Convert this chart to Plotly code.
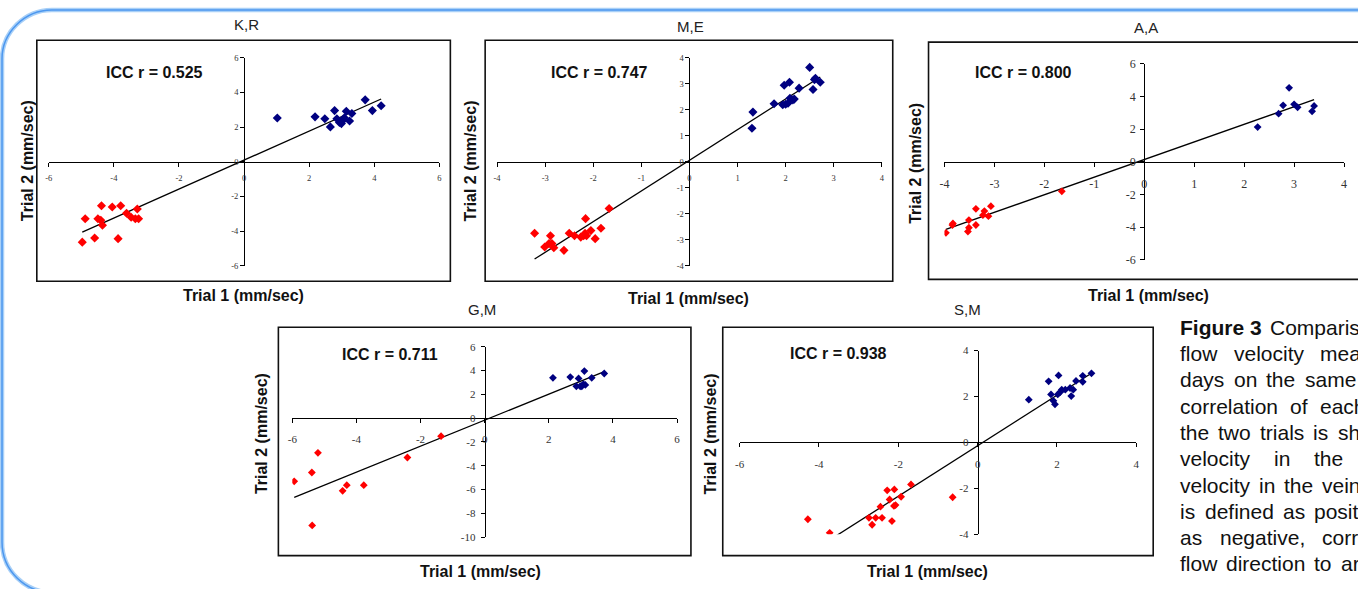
import numpy as np
import plotly.graph_objects as go

W, H = 1358, 589

# ---------------- data ----------------
# K,R
KR_vein_t1 = [-4.97, -4.88, -4.59, -4.49, -4.38, -4.40, -4.35, -4.05, -3.87, -3.79, -3.61, -3.47, -3.34, -3.28, -3.24]
KR_vein_t2 = [-4.64, -3.29, -4.40, -3.29, -2.54, -3.38, -3.67, -2.61, -4.44, -2.54, -2.97, -3.20, -3.29, -2.73, -3.29]
KR_art_t1 = [1.02, 2.18, 2.48, 2.65, 2.78, 2.85, 2.93, 2.99, 3.04, 3.08, 3.14, 3.24, 3.31, 3.72, 3.94, 4.21]
KR_art_t2 = [2.52, 2.59, 2.48, 2.01, 2.95, 2.48, 2.26, 2.20, 2.39, 2.54, 2.91, 2.35, 2.78, 3.57, 2.95, 3.23]
# M,E
ME_vein_t1 = [-3.22, -3.01, -2.92, -2.89, -2.86, -2.82, -2.61, -2.50, -2.39, -2.26, -2.20, -2.17, -2.16, -2.14, -2.05, -1.96, -1.84, -1.67]
ME_vein_t2 = [-2.75, -3.28, -3.15, -2.85, -3.15, -3.31, -3.41, -2.75, -2.85, -2.90, -2.85, -2.75, -2.19, -2.85, -2.65, -2.96, -2.56, -1.80]
ME_art_t1 = [1.30, 1.32, 1.76, 1.94, 1.97, 2.00, 2.05, 2.08, 2.09, 2.15, 2.18, 2.28, 2.50, 2.57, 2.60, 2.62, 2.72]
ME_art_t2 = [1.29, 1.91, 2.23, 2.19, 2.94, 2.21, 2.25, 3.06, 2.44, 2.38, 2.41, 2.83, 3.63, 2.78, 3.16, 3.21, 3.06]
# A,A
AA_vein_t1 = [-3.97, -3.84, -3.83, -3.53, -3.51, -3.51, -3.37, -3.37, -3.23, -3.20, -3.12, -3.07, -1.65]
AA_vein_t2 = [-4.35, -3.87, -3.77, -4.27, -4.03, -3.57, -2.88, -3.87, -3.27, -3.02, -3.33, -2.72, -1.81]
AA_art_t1 = [2.27, 2.69, 2.78, 2.90, 3.00, 3.07, 3.36, 3.40]
AA_art_t2 = [2.12, 2.94, 3.45, 4.52, 3.51, 3.33, 3.08, 3.41]
# G,M
GM_vein_t1 = [-5.94, -5.39, -5.38, -5.20, -4.43, -4.30, -3.77, -2.41, -1.36]
GM_vein_t2 = [-5.31, -4.57, -9.02, -2.92, -6.11, -5.64, -5.64, -3.31, -1.52]
GM_art_t1 = [2.13, 2.67, 2.86, 2.93, 2.98, 3.03, 3.08, 3.11, 3.14, 3.34, 3.73]
GM_art_t2 = [3.39, 3.45, 2.68, 3.34, 2.68, 2.68, 2.85, 3.95, 2.79, 3.39, 3.75]
# S,M
SM_vein_t1 = [-4.28, -3.73, -2.74, -2.66, -2.57, -2.45, -2.41, -2.28, -2.22, -2.16, -2.11, -2.10, -2.07, -1.93, -1.68, -0.63]
SM_vein_t2 = [-3.35, -3.94, -3.29, -3.59, -3.29, -2.80, -3.29, -2.09, -2.49, -3.43, -2.77, -2.05, -2.73, -2.37, -1.83, -2.39]
SM_art_t1 = [1.29, 1.79, 1.85, 1.91, 1.95, 2.02, 2.04, 2.08, 2.12, 2.21, 2.33, 2.36, 2.41, 2.48, 2.65, 2.65, 2.87]
SM_art_t2 = [1.86, 2.66, 2.09, 1.81, 1.66, 2.09, 2.92, 2.19, 2.30, 2.30, 2.37, 2.02, 2.30, 2.68, 2.90, 2.64, 3.01]

subjects = ["K,R", "M,E", "A,A", "G,M", "S,M"]
icc_values = ["0.525", "0.747", "0.800", "0.711", "0.938"]

ticks_6 = [-6, -4, -2, 0, 2, 4, 6]
ticks_4 = [-4, -3, -2, -1, 0, 1, 2, 3, 4]
ticks_6_4 = [-6, -4, -2, 0, 2, 4]
ticks_10_6 = [-10, -8, -6, -4, -2, 0, 2, 4, 6]
ticks_4b = [-4, -2, 0, 2, 4]

caption_lines = [
    ["Figure 3", "Comparison", "of"],
    ["flow", "velocity", "measured"],
    ["days", "on", "the", "same", "subject"],
    ["correlation", "of", "each"],
    ["the", "two", "trials", "is", "shown."],
    ["velocity", "in", "the", "artery"],
    ["velocity", "in", "the", "vein", "is"],
    ["is", "defined", "as", "positive"],
    ["as", "negative,", "corresponding"],
    ["flow", "direction", "to", "arteries"],
]
caption_bold_words = ["Figure 3"]

# ---------------- layout specs (page pixels) ----------------
def PX(x):
    return x / W

def PY(y):
    return 1 - y / H

panels = [
    dict(v=(KR_vein_t1, KR_vein_t2), a=(KR_art_t1, KR_art_t2), xt=ticks_6, yt=ticks_6,
         xpx=(44, 437), ypx=(52, 265), box=(32, 34, 448, 281), title=(243, 18),
         icc=(150, 67), ytl=(22, 157), xtl=(240, 296), tf=8.5, ms=7, xso=4, yso=0),
    dict(v=(ME_vein_t1, ME_vein_t2), a=(ME_art_t1, ME_art_t2), xt=ticks_4, yt=ticks_4,
         xpx=(495, 882), ypx=(52, 265), box=(483, 34, 893, 281), title=(690, 20),
         icc=(598, 67), ytl=(468, 158), xtl=(688, 299), tf=8.5, ms=7, xso=4, yso=0),
    dict(v=(AA_vein_t1, AA_vein_t2), a=(AA_art_t1, AA_art_t2), xt=ticks_4, yt=ticks_6,
         xpx=(945, 1347), ypx=(58, 259), box=(929, 36, 1366, 279), title=(1148, 21),
         icc=(1025, 67), ytl=(916, 160), xtl=(1150, 296), tf=12, ms=6, xso=7, yso=2),
    dict(v=(GM_vein_t1, GM_vein_t2), a=(GM_art_t1, GM_art_t2), xt=ticks_6, yt=ticks_10_6,
         xpx=(289, 676), ypx=(348, 543), box=(275, 328, 690, 562), title=(480, 310),
         icc=(387, 356), ytl=(258, 437), xtl=(478, 578), tf=11, ms=6, xso=7, yso=3),
    dict(v=(SM_vein_t1, SM_vein_t2), a=(SM_art_t1, SM_art_t2), xt=ticks_6_4, yt=ticks_4b,
         xpx=(739, 1138), ypx=(352, 540), box=(722, 328, 1155, 562), title=(968, 310),
         icc=(838, 355), ytl=(710, 437), xtl=(928, 578), tf=11, ms=6, xso=7, yso=3),
]

SANS = "Liberation Sans, Arial, sans-serif"
SERIF = "Liberation Serif, Times New Roman, serif"

fig = go.Figure()
shapes = []
annotations = []
layout_axes = {}

def add_text(x, y, text, size, bold=False, angle=0, xanchor="center", color="#111111"):
    annotations.append(dict(x=PX(x), y=PY(y), xref="paper", yref="paper",
                            text=f"<b>{text}</b>" if bold else text, showarrow=False,
                            textangle=angle, xanchor=xanchor, yanchor="middle",
                            font=dict(family=SANS, size=size, color=color)))

for i, p in enumerate(panels, start=1):
    xa = "x" if i == 1 else f"x{i}"
    ya = "y" if i == 1 else f"y{i}"
    xmin, xmax = min(p["xt"]), max(p["xt"])
    ymin, ymax = min(p["yt"]), max(p["yt"])

    # linear trend line (least squares over all points, from min to max of trial 1)
    allx = np.array(p["v"][0] + p["a"][0])
    ally = np.array(p["v"][1] + p["a"][1])
    k, b = np.polyfit(allx, ally, 1)
    tx = np.array([allx.min(), allx.max()])
    fig.add_trace(go.Scatter(x=tx, y=k * tx + b, mode="lines", xaxis=xa, yaxis=ya,
                             line=dict(color="black", width=1.3), showlegend=False,
                             hoverinfo="skip"))
    fig.add_trace(go.Scatter(x=p["v"][0], y=p["v"][1], mode="markers", xaxis=xa, yaxis=ya,
                             marker=dict(symbol="diamond", size=p["ms"], color="#ff0000"),
                             showlegend=False, name="vein"))
    fig.add_trace(go.Scatter(x=p["a"][0], y=p["a"][1], mode="markers", xaxis=xa, yaxis=ya,
                             marker=dict(symbol="diamond", size=p["ms"], color="#000080"),
                             showlegend=False, name="artery"))

    x0p, x1p = p["xpx"]
    y0p, y1p = p["ypx"]
    yzero_px = y0p + (ymax - 0) / (ymax - ymin) * (y1p - y0p)
    xzero_px = x0p + (0 - xmin) / (xmax - xmin) * (x1p - x0p)
    tickfont = dict(family=SERIF, size=p["tf"], color="#333333")
    common = dict(showgrid=False, zeroline=False, showline=True, linecolor="black", linewidth=1,
                  ticks="outside", ticklen=4, tickwidth=1, tickcolor="black", tickfont=tickfont,
                  anchor="free", fixedrange=True)
    layout_axes["xaxis" if i == 1 else f"xaxis{i}"] = dict(
        domain=[PX(x0p), PX(x1p)], range=[xmin, xmax], position=PY(yzero_px),
        tickvals=p["xt"], ticktext=[str(t) for t in p["xt"]], ticklabelstandoff=p["xso"], **common)
    layout_axes["yaxis" if i == 1 else f"yaxis{i}"] = dict(
        domain=[PY(y1p), PY(y0p)], range=[ymin, ymax], position=PX(xzero_px),
        tickvals=p["yt"], ticktext=[str(t) for t in p["yt"]], ticklabelstandoff=p["yso"], **common)

    bx0, by0, bx1, by1 = p["box"]
    shapes.append(dict(type="rect", xref="paper", yref="paper", x0=PX(bx0), x1=PX(bx1),
                       y0=PY(by1), y1=PY(by0), line=dict(color="#111111", width=1.6),
                       fillcolor="rgba(0,0,0,0)", layer="below"))

    add_text(*p["title"], subjects[i - 1], 15, color="#222222")
    add_text(*p["icc"], f"ICC r = {icc_values[i - 1]}", 16, bold=True)
    add_text(*p["xtl"], "Trial 1 (mm/sec)", 16, bold=True)
    add_text(*p["ytl"], "Trial 2 (mm/sec)", 16, bold=True, angle=-90)

# ---------------- justified caption, laid out word by word ----------------
CAP_SIZE = 21
REG_W = dict(a=556, b=556, c=500, d=556, e=556, f=278, g=556, h=556, i=222, j=222, k=500,
             l=222, m=833, n=556, o=556, p=556, q=556, r=333, s=500, t=278, u=556, v=500,
             w=722, x=500, y=500, z=500, C=722, F=611)
REG_W.update({" ": 278, ",": 278, ".": 278, "3": 556})
BOLD_W = dict(F=611, i=278, g=611, u=611, r=389, e=556)
BOLD_W.update({" ": 278, "3": 556})

def word_width(word, bold):
    table = BOLD_W if bold else REG_W
    return sum(table.get(ch, 556) for ch in word) * CAP_SIZE / 1000.0

cap_left = 1180
cap_y = [327, 354, 381, 408, 435, 462, 489, 516, 542, 569]
cap_gap = [8.3, 16.8, 9.5, 12.8, 9.3, 24.3, 9.1, 9.6, 17.8, 9.1]
for words, yy, gap in zip(caption_lines, cap_y, cap_gap):
    xx = cap_left
    for w in words:
        bold = w in caption_bold_words
        add_text(xx, yy + 1, w, CAP_SIZE, bold=bold, xanchor="left")
        xx += word_width(w, bold) + gap

# decorative blue rounded frame
def path_px(cmds):
    out = []
    for c in cmds:
        if isinstance(c, str):
            out.append(c)
        else:
            out.append(f"{PX(c[0]):.5f},{PY(c[1]):.5f}")
    return " ".join(out)

frame_cmds = ["M", (1420, 3), "L", (47, 3), "C", (20, 3), (-3, 26), (-3, 53),
              "L", (-3, 548), "C", (-3, 577), (20, 600), (49, 600), "L", (1420, 600)]
shapes.append(dict(type="path", xref="paper", yref="paper", path=path_px(frame_cmds),
                   line=dict(color="#a9d0f7", width=4.5)))
shapes.append(dict(type="path", xref="paper", yref="paper", path=path_px(frame_cmds),
                   line=dict(color="#4c97ef", width=1.5)))

fig.update_layout(width=W, height=H, margin=dict(l=0, r=0, t=0, b=0), autosize=False,
                  paper_bgcolor="white", plot_bgcolor="rgba(0,0,0,0)",
                  shapes=shapes, annotations=annotations, showlegend=False, **layout_axes)

fig.write_html("out.html", config={"displayModeBar": False},
               post_script="document.body.style.margin='0';document.body.style.overflow='hidden';")
